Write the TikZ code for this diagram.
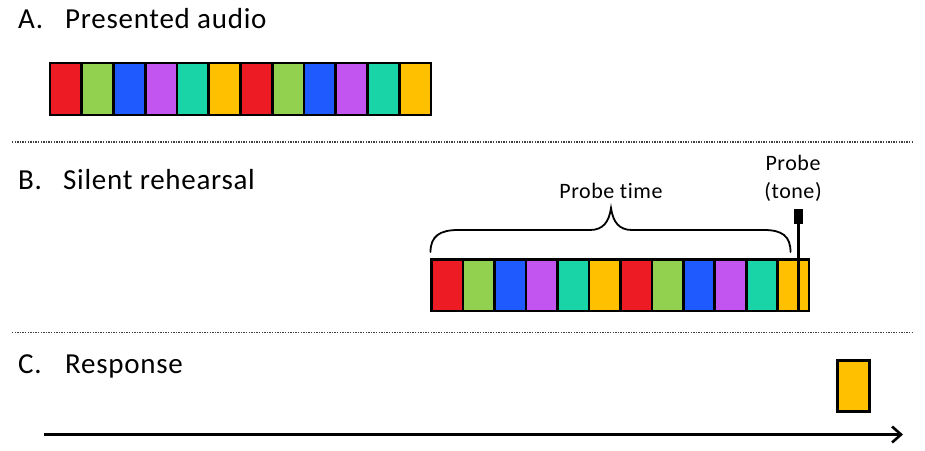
\documentclass[tikz,border=0pt]{standalone}
\usepackage{fontspec}
\setmainfont[LetterSpace=2.5,Ligatures=NoCommon]{Carlito}
\usetikzlibrary{arrows.meta}
\definecolor{cRed}{RGB}{237,28,36}
\definecolor{cGreen}{RGB}{146,208,80}
\definecolor{cBlue}{RGB}{31,90,255}
\definecolor{cPurple}{RGB}{194,85,240}
\definecolor{cTeal}{RGB}{25,212,166}
\definecolor{cYellow}{RGB}{255,192,0}
\tikzset{
  cell/.style={draw=black, line width=2.6pt, inner sep=0pt, outer sep=0pt},
  title/.style={font=\fontsize{29}{32}\selectfont, anchor=base west, inner sep=0pt},
  small/.style={font=\fontsize{22}{24}\selectfont, inner sep=0pt, anchor=base},
  sep/.style={line width=1.1pt, black!75, dash pattern=on 1.4pt off 1.2pt},
}
\begin{document}
\begin{tikzpicture}[x=1pt,y=-1pt]
\useasboundingbox (0,0) rectangle (925,450);
% titles
\node[title] (la) at (18,28) {A.};
\node[title] (ta) at (65,28) {Presented audio};
\node[title] (lb) at (18,189) {B.};
\node[title] (tb) at (63,189) {Silent rehearsal};
\node[title] (lc) at (18,373) {C.};
\node[title] (tc) at (65,373) {Response};
% separators
\coordinate (s1a) at (12,142); \coordinate (s1b) at (913,142);
\coordinate (s2a) at (12,332.5); \coordinate (s2b) at (913,332.5);
\draw[sep] (s1a) -- (s1b);
\draw[sep] (s2a) -- (s2b);
% bar A
\def\cw{31.75}
\foreach \c [count=\i from 0] in {cRed,cGreen,cBlue,cPurple,cTeal,cYellow,cRed,cGreen,cBlue,cPurple,cTeal,cYellow}{
  \path[cell, fill=\c] (50+\i*\cw,63) rectangle ++(\cw,52);
  \coordinate (a\i) at (50+\i*\cw+\cw/2,89);
}
% bar B
\def\cwb{31.45}
\foreach \c [count=\i from 0] in {cRed,cGreen,cBlue,cPurple,cTeal,cYellow,cRed,cGreen,cBlue,cPurple,cTeal,cYellow}{
  \path[cell, fill=\c] (431.7+\i*\cwb,259.5) rectangle ++(\cwb,51.5);
  \coordinate (b\i) at (431.7+\i*\cwb+\cwb/2,285);
}
% brace
\coordinate (brL) at (430.5,252);
\coordinate (brR) at (790.5,252);
\coordinate (brT) at (611,208);
\draw[line width=1.8pt, line cap=round]
  (brL) .. controls (430.5,236) and (440,230) .. (458,230)
  -- (590,230) .. controls (603,230) and (609,222) .. (brT)
  .. controls (613,222) and (619,230) .. (632,230)
  -- (764,230) .. controls (782,230) and (790.5,236) .. (brR);
\node[small] (pt) at (611,198) {Probe time};
% probe
\node[small] (pr1) at (793,170) {Probe};
\node[small] (pr2) at (793,198) {(tone)};
\node[fill=black, minimum width=9pt, minimum height=15pt, inner sep=0pt] (pm) at (798.5,216) {};
\coordinate (pb) at (798.5,311);
\draw[line width=3.4pt] (pm.south) -- (pb);
% response
\node[cell, fill=cYellow, line width=2.2pt, minimum width=32pt, minimum height=51pt] (resp) at (853.5,386) {};
% time arrow
\coordinate (ta0) at (44,434.5);
\coordinate (ta1) at (903,434.5);
\draw[line width=2.6pt, -{Straight Barb[length=9pt,width=16pt,line width=2.6pt]}] (ta0) -- (ta1);
\end{tikzpicture}
\end{document}
